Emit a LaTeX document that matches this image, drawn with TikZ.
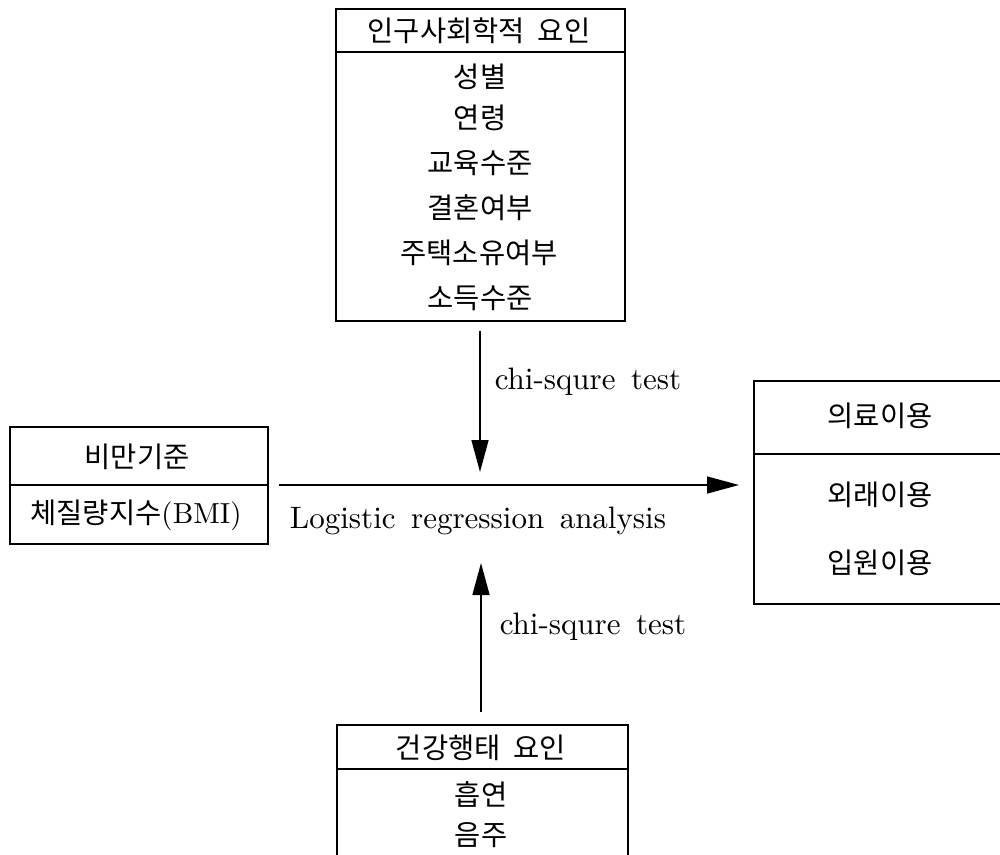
\documentclass[tikz,border=0pt]{standalone}
\usepackage{fontspec}
\setmainfont{lmroman10-regular.otf}
\newfontfamily\kr{Noto Sans CJK KR}
\newfontfamily\lat{lmroman10-regular.otf}
\usetikzlibrary{arrows.meta}
\tikzset{
  box/.style={draw, line width=1.6pt, inner sep=0pt, anchor=north west},
  kt/.style={font=\kr\fontsize{28.5}{32}\selectfont, inner sep=0pt},
  lt/.style={font=\lat\fontsize{31}{35}\selectfont, inner sep=0pt},
  arr/.style={-{Triangle[length=32pt,width=17pt]}, line width=1.5pt},
  sep/.style={line width=1.6pt}
}
\begin{document}
\begin{tikzpicture}[x=1pt,y=-1pt]
\useasboundingbox (0,0) rectangle (1000,854);
\clip (0,0) rectangle (1000,854);
% top box
\node[box, minimum width=289pt, minimum height=312pt] (demo) at (335,8) {};
\draw[sep] (demo.west |- 0,52) -- (demo.east |- 0,52);
\node[kt] (dh) at (479,31) {인구사회학적\hspace{0.45em}요인};
\node[kt] (d1) at (480,77) {성별};
\node[kt] (d2) at (480,118) {연령};
\node[kt] (d3) at (480,163) {교육수준};
\node[kt] (d4) at (480,208) {결혼여부};
\node[kt] (d5) at (479,253) {주택소유여부};
\node[kt] (d6) at (480,298) {소득수준};
% left box
\node[box, minimum width=258pt, minimum height=117pt] (obs) at (9,426) {};
\draw[sep] (obs.west |- 0,485) -- (obs.east |- 0,485);
\node[kt] (oh) at (137,457) {비만기준};
\node[kt] (o1) at (136,515) {체질량지수{\lat\fontsize{29}{32}\selectfont(BMI)}};
% right box
\node[box, minimum width=262pt, minimum height=223pt] (med) at (753,380) {};
\draw[sep] (med.west |- 0,454) -- (med.east |- 0,454);
\node[kt] (mh) at (880,416) {의료이용};
\node[kt] (m1) at (880,495) {외래이용};
\node[kt] (m2) at (880,563) {입원이용};
% bottom box
\node[box, minimum width=291pt, minimum height=160pt] (hb) at (336,724) {};
\draw[sep] (hb.west |- 0,769) -- (hb.east |- 0,769);
\node[kt] (hh) at (481,748) {건강행태\hspace{0.45em}요인};
\node[kt] (h1) at (481,794) {흡연};
\node[kt] (h2) at (481,835) {음주};
% connectors
\coordinate (tipT) at (480,472);
\coordinate (tipB) at (481,563);
\coordinate (hstart) at (279,485);
\draw[arr, shorten <=9pt] (demo.south -| tipT) -- (tipT);
\draw[arr, shorten <=12pt] (hb.north -| tipB) -- (tipB);
\draw[arr, shorten >=14pt] (hstart) -- (med.west |- hstart);
% labels
\node[lt] (c1) at (588,382) {chi-squre\hspace{0.5em}test};
\node[lt] (c2) at (593,627) {chi-squre\hspace{0.5em}test};
\node[lt] (lr) at (478,521) {Logistic\hspace{0.5em}regression\hspace{0.5em}analysis};
\end{tikzpicture}
\end{document}
